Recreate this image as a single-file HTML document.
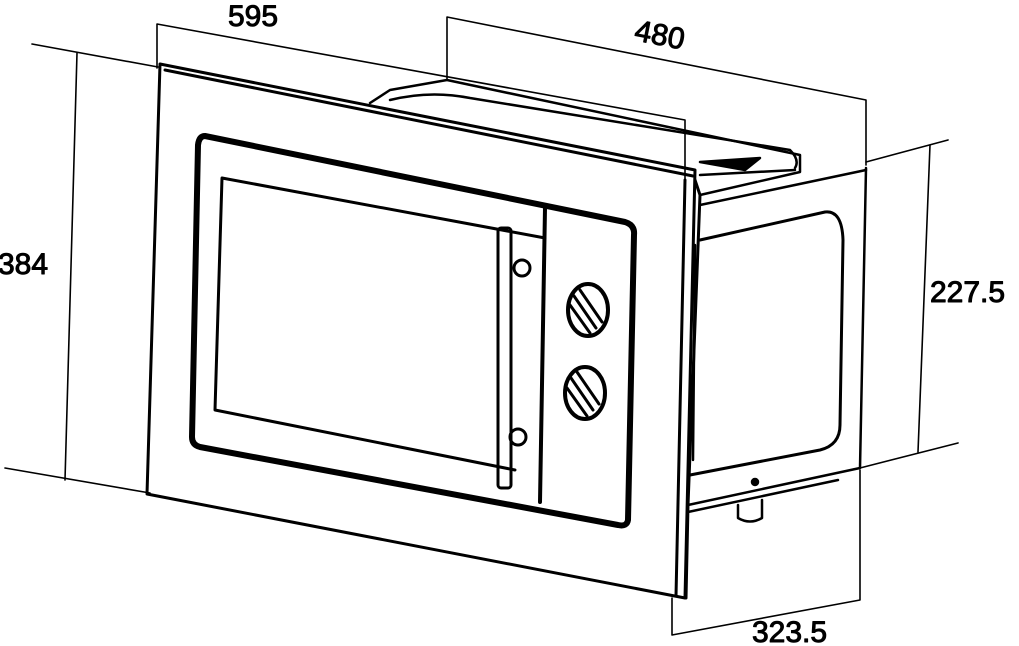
<!DOCTYPE html>
<html><head><style>
html,body{margin:0;padding:0;background:#fff;width:1019px;height:646px;overflow:hidden}
svg{display:block}
text{font-family:"Liberation Sans",sans-serif;font-size:30px;fill:#000}
</style></head><body>
<svg width="1019" height="646" viewBox="0 0 1019 646" xmlns="http://www.w3.org/2000/svg" fill="none" stroke="#000" stroke-linejoin="round" stroke-linecap="round">
<g stroke-width="1.6">
<line x1="32" y1="44" x2="158" y2="67"/>
<line x1="77" y1="53" x2="65" y2="480"/>
<line x1="5" y1="468" x2="150" y2="493"/>
<polyline points="157,68 157,24 685,120 685,180"/>
<polyline points="447,80 447,17 866,100 866,165"/>
<line x1="866" y1="162" x2="948" y2="140"/>
<line x1="930" y1="145" x2="918" y2="452"/>
<line x1="860" y1="468" x2="958" y2="443"/>
<polyline points="672,598 672,635 860,600 860,470"/>
</g>
<text x="228" y="26">595</text>
<text x="634" y="46" transform="rotate(11 665 40)">480</text>
<text x="-2" y="274">384</text>
<text x="930" y="302">227.5</text>
<text x="752" y="642">323.5</text>

<g stroke-width="2.5">
<polyline points="370,103 390,90 447,80 800,155 800,172 700,195"/>
<path d="M390,100 Q430,90 470,98 L790,150 Q800,160 795,168"/>
<polygon points="700,162 760,158 745,170" fill="#000"/>
<line x1="700" y1="175" x2="795" y2="170"/>
<line x1="700" y1="205" x2="866" y2="170"/>
<line x1="866" y1="168" x2="860" y2="468"/>
<line x1="688" y1="505" x2="860" y2="468"/>
<line x1="688" y1="512" x2="838" y2="480"/>
<path d="M700,240 L825,212 Q842,210 843,240 L840,425 Q840,445 820,450 L690,475" stroke-width="3"/>
<path d="M695,245 L693,460"/>
<path d="M738,505 L738,518 Q750,525 762,518 L762,500"/>
<circle cx="755" cy="482" r="3" fill="#000"/>
</g>

<g stroke-width="3">
<polygon points="160,64 695,170 685,598 147,494"/>
<line x1="165" y1="70" x2="693" y2="176"/>
<line x1="685" y1="180" x2="676" y2="596"/>
<path d="M695,180 L700,195 L688,505 L686,598"/>
</g>

<g>
<path d="M205,136 L625,222 Q635,225 634,235 L628,520 Q627,527 618,525 L200,447 Q192,445 192,437 L198,145 Q199,136 205,136 Z" stroke-width="6"/>
<line x1="545" y1="208" x2="540" y2="502" stroke-width="4"/>
<polyline points="545,238 222,178 215,410 515,470" stroke-width="3"/>
<rect x="498" y="228" width="13" height="260" rx="3" stroke-width="3"/>
<circle cx="522" cy="268" r="8" stroke-width="3"/>
<circle cx="518" cy="437" r="8" stroke-width="3"/>
<ellipse cx="588" cy="310" rx="20" ry="26" stroke-width="4"/>
<path d="M574,296 L596,328 M580,290 L602,322 M570,305 L590,333" stroke-width="3"/>
<ellipse cx="585" cy="393" rx="20" ry="26" stroke-width="4"/>
<path d="M571,378 L593,410 M577,372 L599,404 M567,388 L587,416" stroke-width="3"/>
</g>
</svg>
</body></html>
